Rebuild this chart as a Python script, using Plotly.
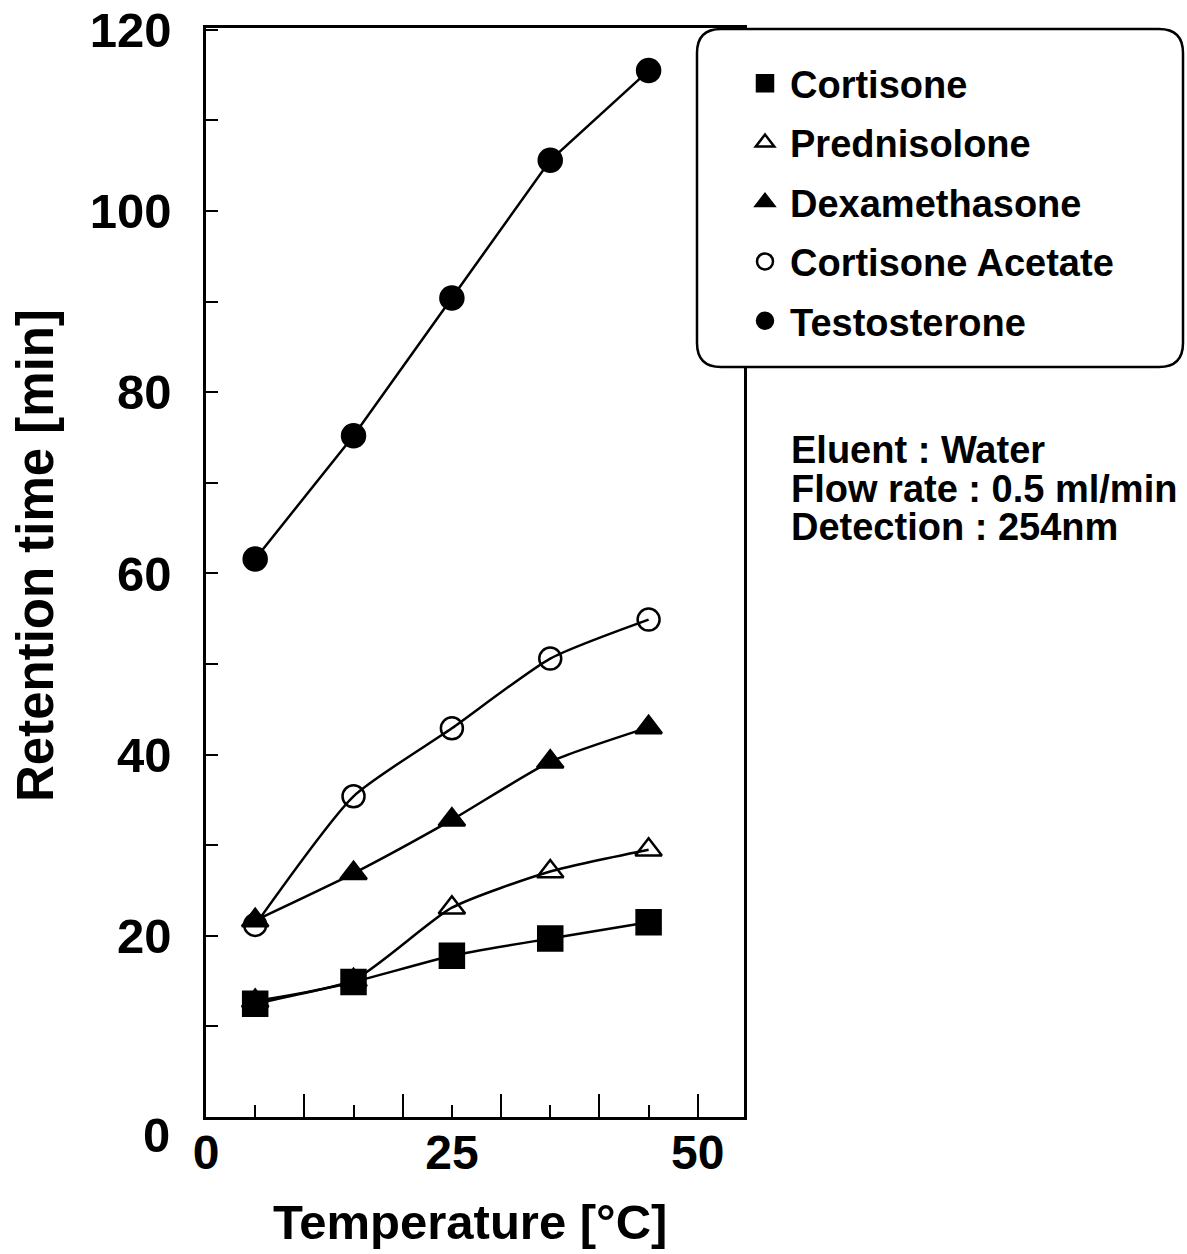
import plotly.graph_objects as go

temperature = [5, 15, 25, 35, 45]
cortisone = [12.5, 14.9, 17.8, 19.7, 21.5]
prednisolone = [12.8, 15.1, 23.1, 27.1, 29.5]
dexamethasone = [21.7, 26.9, 32.8, 39.2, 43.0]
cortisone_acetate = [21.2, 35.4, 42.9, 50.6, 54.9]
testosterone = [61.6, 75.2, 90.4, 105.6, 115.5]

series_names = ["Cortisone", "Prednisolone", "Dexamethasone", "Cortisone Acetate", "Testosterone"]
series_values = [cortisone, prednisolone, dexamethasone, cortisone_acetate, testosterone]
series_symbols = ["square", "triangle-up-open", "triangle-up", "circle-open", "circle"]
series_sizes = [24, 23, 23, 22, 23]
series_shapes = ["spline", "spline", "spline", "spline", "linear"]

x_major_ticks = [10, 20, 30, 40, 50]
x_minor_ticks = [5, 15, 25, 35, 45]
x_label_vals = [0, 25, 50]
y_tick_vals = [10, 20, 30, 40, 50, 60, 70, 80, 90, 100, 110, 120]
y_tick_text = ["", "20", "", "40", "", "60", "", "80", "", "100", "", "120"]

conditions = ["Eluent : Water", "Flow rate : 0.5 ml/min", "Detection : 254nm"]

FONT = "Liberation Sans, Arial, Helvetica, sans-serif"
XR = [0, 54.7]
YR = [0, 120.2]

L, R_, T, B = 206, 744, 28, 1117
def fx(p):
    return (p - L) / (R_ - L)
def fy(p):
    return (B - p) / (B - T)

fig = go.Figure()
# curves (no legend)
for i in range(5):
    fig.add_trace(go.Scatter(
        x=temperature, y=series_values[i], mode="lines", showlegend=False,
        line=dict(color="black", width=2.5, shape=series_shapes[i], smoothing=0.6),
        hoverinfo="skip",
    ))
# markers (legend)
marker_traces = []
for i in range(5):
    marker_traces.append(go.Scatter(
        x=temperature, y=series_values[i], name=f"<b>{series_names[i]}</b>",
        mode="markers",
        marker=dict(symbol=series_symbols[i], size=series_sizes[i], color="black",
                    line=dict(color="black", width=2.5)),
        legendgroup=series_names[i], legendrank=i + 1,
    ))
# draw prednisolone under cortisone
for i in [1, 0, 2, 3, 4]:
    fig.add_trace(marker_traces[i])

# Rounded legend box
px0, px1, py0, py1 = 697, 1183, 29, 367
r = 24
path = (f"M {fx(px0 + r)} {fy(py0)} L {fx(px1 - r)} {fy(py0)} "
        f"Q {fx(px1)} {fy(py0)} {fx(px1)} {fy(py0 + r)} "
        f"L {fx(px1)} {fy(py1 - r)} Q {fx(px1)} {fy(py1)} {fx(px1 - r)} {fy(py1)} "
        f"L {fx(px0 + r)} {fy(py1)} Q {fx(px0)} {fy(py1)} {fx(px0)} {fy(py1 - r)} "
        f"L {fx(px0)} {fy(py0 + r)} Q {fx(px0)} {fy(py0)} {fx(px0 + r)} {fy(py0)} Z")
fig.add_shape(type="path", path=path, xref="paper", yref="paper",
              line=dict(color="black", width=2.5), fillcolor="white", layer="above")

for k, t in enumerate(conditions):
    fig.add_annotation(text=f"<b>{t}</b>", x=fx(789), y=fy(450 + 38.5 * k),
                       xref="paper", yref="paper", xanchor="left", yanchor="middle",
                       showarrow=False, font=dict(family=FONT, size=38, color="black"))

fig.add_annotation(text="<b>0</b>", x=fx(172), y=fy(1135), xref="paper", yref="paper",
                   xanchor="right", yanchor="middle", showarrow=False,
                   font=dict(family=FONT, size=49, color="black"))

fig.add_annotation(text="<b>Retention time [min]</b>", x=fx(35), y=fy(556),
                   xref="paper", yref="paper", xanchor="center", yanchor="middle",
                   textangle=-90, showarrow=False,
                   font=dict(family=FONT, size=51, color="black"))
fig.add_annotation(text="<b>Temperature [°C]</b>", x=fx(470), y=fy(1222),
                   xref="paper", yref="paper", xanchor="center", yanchor="middle",
                   showarrow=False, font=dict(family=FONT, size=49, color="black"))

fig.update_layout(
    width=1187, height=1254,
    margin=dict(l=206, r=1187 - 744, t=28, b=1254 - 1117, autoexpand=False),
    plot_bgcolor="white", paper_bgcolor="white",
    showlegend=True,
    legend=dict(x=fx(740), y=fy(52), xref="paper", yref="paper", xanchor="left", yanchor="top",
                bgcolor="rgba(0,0,0,0)", borderwidth=0, tracegroupgap=7,
                font=dict(family=FONT, size=38, color="black"), itemwidth=40,
                traceorder="grouped"),
    xaxis=dict(range=XR, showgrid=False, zeroline=False, showline=True, mirror=True,
               linecolor="black", linewidth=2.5, ticks="inside", ticklen=23, tickwidth=2,
               tickcolor="black", tickvals=x_major_ticks, showticklabels=False,
               minor=dict(tickvals=x_minor_ticks, ticks="inside", ticklen=12, tickwidth=2,
                          tickcolor="black", showgrid=False)),
    xaxis2=dict(range=XR, overlaying="x", side="bottom", showgrid=False, zeroline=False,
                showline=False, ticks="", tickvals=x_label_vals,
                ticktext=[f"<b>{v}</b>" for v in x_label_vals],
                tickfont=dict(family=FONT, size=48, color="black"), ticklabelstandoff=3),
    yaxis=dict(range=YR, showgrid=False, zeroline=False, showline=True, mirror=True,
               linecolor="black", linewidth=2.5, ticks="inside", ticklen=12, tickwidth=2,
               tickcolor="black", tickvals=y_tick_vals,
               ticktext=[f"<b>{t}</b>" if t else "" for t in y_tick_text],
               tickfont=dict(family=FONT, size=49, color="black"), ticklabelstandoff=22),
)
fig.add_trace(go.Scatter(x=[None], y=[None], xaxis="x2", showlegend=False, hoverinfo="skip"))

fig.write_html("out.html")
